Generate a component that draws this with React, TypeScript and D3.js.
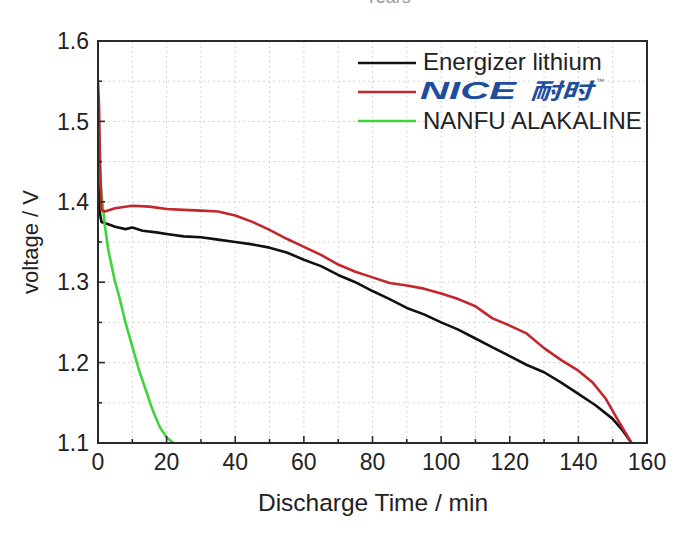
import * as d3 from "d3";

// discharge time (min) / voltage (V)
const energizerT = [0, 0.3, 0.6, 1, 3, 5, 8, 10, 13, 17, 20, 25, 30, 35, 40, 45, 50, 55, 60, 65, 70, 75, 80, 85, 90, 95, 100, 105, 110, 115, 120, 125, 130, 135, 140, 145, 150, 153, 155.5];
const energizerV = [1.44, 1.41, 1.385, 1.375, 1.372, 1.369, 1.366, 1.368, 1.364, 1.362, 1.36, 1.357, 1.356, 1.353, 1.35, 1.347, 1.343, 1.337, 1.328, 1.32, 1.309, 1.3, 1.289, 1.279, 1.268, 1.26, 1.25, 1.241, 1.23, 1.219, 1.208, 1.197, 1.188, 1.175, 1.161, 1.147, 1.13, 1.115, 1.1];

const niceT = [0, 0.3, 0.6, 1, 2, 5, 10, 15, 20, 25, 30, 35, 40, 45, 50, 55, 60, 65, 70, 75, 80, 85, 90, 95, 100, 105, 110, 115, 120, 125, 130, 135, 140, 144, 148, 152, 155.5];
const niceV = [1.55, 1.52, 1.45, 1.39, 1.388, 1.392, 1.395, 1.394, 1.391, 1.39, 1.389, 1.388, 1.383, 1.375, 1.365, 1.354, 1.344, 1.334, 1.322, 1.313, 1.306, 1.299, 1.296, 1.292, 1.286, 1.279, 1.27, 1.255, 1.246, 1.236, 1.218, 1.203, 1.19, 1.176, 1.155, 1.125, 1.1];

const nanfuT = [0, 0.5, 1, 2, 3, 4, 5, 6, 8, 10, 12, 14, 16, 18, 20, 22];
const nanfuV = [1.47, 1.44, 1.41, 1.37, 1.34, 1.32, 1.3, 1.285, 1.25, 1.22, 1.19, 1.165, 1.14, 1.12, 1.107, 1.1];

const xTicks = [0, 20, 40, 60, 80, 100, 120, 140, 160];
const yTicks = [1.1, 1.2, 1.3, 1.4, 1.5, 1.6];
const legendLabels = ["Energizer lithium", "NICE", "NANFU ALAKALINE"];

const W = 700;
const H = 533;
const m = { left: 98, right: 53, top: 41, bottom: 90 };

export default function App() {
  const x = d3.scaleLinear().domain([0, 160]).range([m.left, W - m.right]);
  const y = d3.scaleLinear().domain([1.1, 1.6]).range([H - m.bottom, m.top]);

  const line = d3
    .line<[number, number]>()
    .x((d) => x(d[0]))
    .y((d) => y(d[1]));

  const toPts = (t: number[], v: number[]) => t.map((d, i) => [d, v[i]] as [number, number]);

  const series = [
    { name: legendLabels[0], pts: toPts(energizerT, energizerV), color: "#111111" },
    { name: legendLabels[2], pts: toPts(nanfuT, nanfuV), color: "#3fd43a" },
    { name: legendLabels[1], pts: toPts(niceT, niceV), color: "#c3262c" },
  ];

  const xMinor = d3.range(0, 161, 10);
  const yMinor = d3.range(1.1, 1.6001, 0.05);
  const font = "'Liberation Sans', Arial, sans-serif";
  const x0 = x(0), x1 = x(160), y0 = y(1.1), y1 = y(1.6);

  return (
    <svg
      width={W}
      height={H}
      style={{ position: "absolute", left: 0, top: 0, background: "#fff" }}
      fontFamily={font}
    >
      <defs>
        <clipPath id="plot">
          <rect x={x0} y={y1} width={x1 - x0} height={y0 - y1} />
        </clipPath>
      </defs>

      {/* title, cut off at the top edge as in the source image */}
      <text x={388} y={3} textAnchor="middle" fontSize={18} fill="#999">Years</text>

      {/* grid */}
      <g stroke="#d4d4d4" strokeWidth={1} strokeDasharray="2,3">
        {xMinor.slice(1, -1).map((t) => (
          <line key={"gx" + t} x1={x(t)} x2={x(t)} y1={y1} y2={y0} />
        ))}
        {yMinor.slice(1, -1).map((v, i) => (
          <line key={"gy" + i} x1={x0} x2={x1} y1={y(v)} y2={y(v)} />
        ))}
      </g>

      {/* curves */}
      <g clipPath="url(#plot)" fill="none" strokeLinejoin="round" strokeLinecap="round">
        {series.map((s) => (
          <path key={s.name} d={line(s.pts) ?? ""} stroke={s.color} strokeWidth={2.6} />
        ))}
      </g>

      {/* frame */}
      <rect x={x0} y={y1} width={x1 - x0} height={y0 - y1} fill="none" stroke="#2a2a2a" strokeWidth={2} />

      {/* ticks, pointing inward */}
      <g stroke="#2a2a2a" strokeWidth={1.6}>
        {xMinor.map((t) => (
          <line key={"tx" + t} x1={x(t)} x2={x(t)} y1={y0} y2={y0 - (t % 20 === 0 ? 7 : 4)} />
        ))}
        {yMinor.map((v, i) => (
          <line key={"ty" + i} x1={x0} x2={x0 + (i % 2 === 0 ? 7 : 4)} y1={y(v)} y2={y(v)} />
        ))}
      </g>

      {/* tick labels */}
      <g fontSize={23} fill="#222">
        {xTicks.map((t) => (
          <text key={"lx" + t} x={x(t)} y={470} textAnchor="middle">{t}</text>
        ))}
        {yTicks.map((v) => (
          <text key={"ly" + v} x={89} y={y(v)} dy="0.36em" textAnchor="end">{v.toFixed(1)}</text>
        ))}
      </g>

      {/* axis titles */}
      <text x={373} y={511} textAnchor="middle" fontSize={24.5} fill="#222">Discharge Time / min</text>
      <text
        transform={`translate(38, 242) rotate(-90)`}
        textAnchor="middle"
        fontSize={22}
        fill="#222"
      >
        voltage / V
      </text>

      {/* legend */}
      <g>
        <line x1={358} x2={416} y1={63} y2={63} stroke="#111" strokeWidth={2.6} />
        <text x={423} y={70} fontSize={24} fill="#222">{legendLabels[0]}</text>

        <line x1={358} x2={416} y1={92} y2={92} stroke="#c3262c" strokeWidth={2.6} />
        <g fill="#1d4e9e" fontWeight="bold" fontStyle="italic">
          <text x={420} y={99} fontSize={24} textLength={96} lengthAdjust="spacingAndGlyphs">
            {legendLabels[1]}
          </text>
          <text
            x={530}
            y={99}
            fontSize={22}
            fontFamily="'Noto Sans CJK SC', sans-serif"
            textLength={62}
            lengthAdjust="spacingAndGlyphs"
          >
            耐时
          </text>
        </g>
        <text x={596} y={84} fontSize={8} fill="#666">™</text>

        <line x1={358} x2={416} y1={121} y2={121} stroke="#3fd43a" strokeWidth={2.6} />
        <text x={423} y={129} fontSize={24} fill="#222">{legendLabels[2]}</text>
      </g>
    </svg>
  );
}
